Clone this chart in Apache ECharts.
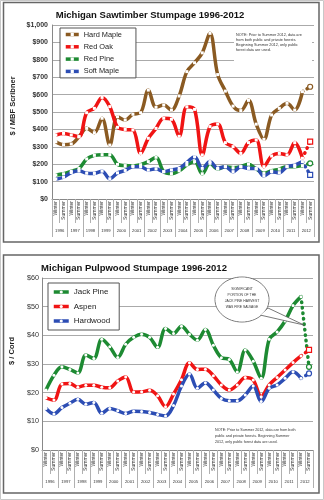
<!DOCTYPE html>
<html><head><meta charset="utf-8">
<script src="https://cdn.jsdelivr.net/npm/echarts@6/dist/echarts.min.js"></script>
<style>html,body{margin:0;padding:0;background:#fff}#c{width:324px;height:500px}</style>
</head><body><div id="c"></div>
<script>
// ---------- data ----------
const years = ['1996','1997','1998','1999','2000','2001','2002','2003','2004','2005','2006','2007','2008','2009','2010','2011','2012'];
const seasonLabels = ['Winter','Summer'];
const yTicks1 = ['$0','$100','$200','$300','$400','$500','$600','$700','$800','$900','$1,000'];
const yTicks2 = ['$0','$10','$20','$30','$40','$50','$60'];

// Sawtimber ($/MBF Scribner), 1996 Winter .. 2012 Winter
const hardMaple = [329,312,316,358,406,381,464,310,473,454,487,496,626,527,540,511,592,732,783,840,952,715,620,534,508,567,430,343,483,521,550,511,617];
const redOak    = [368,377,368,358,496,521,584,531,412,400,397,262,349,406,464,458,360,530,515,253,416,431,324,301,262,324,339,186,247,262,253,324,234];
const redPine   = [138,145,160,175,230,251,255,255,199,192,190,197,215,240,157,146,162,195,215,145,205,172,186,180,186,200,172,148,162,172,186,186,192];
const softMaple = [114,125,152,162,148,147,160,116,150,164,186,186,166,174,157,167,176,210,243,176,215,176,186,157,186,176,176,132,157,151,186,195,215];
// Summer 2012 (public forests only)
const sawSummer2012 = {hardMaple:645, redOak:330, redPine:205, softMaple:139};

// Pulpwood ($/cord), 1996 Winter .. 2012 Winter
const jackPine = [20.9,26.1,29.0,28.1,26.9,33.1,31.9,38.6,36.0,32.3,36.9,39.3,40.4,39.3,35.8,42.4,40.6,43.2,40.4,38.3,42.0,36.5,32.2,31.6,27.2,34.9,31.0,25.0,38.6,41.2,45.0,50.4,53.5];
const aspen    = [18.2,17.4,23.0,23.2,21.9,22.6,22.6,21.9,21.7,24.1,25.5,20.2,20.3,20.8,18.9,15.1,19.5,24.5,30.4,28.1,28.2,25.9,22.7,20.9,22.7,25.3,24.4,18.6,22.7,25.3,27.9,30.5,32.8];
const hardwood = [14.5,12.6,14.8,16.3,17.7,16.0,16.6,12.8,14.5,13.7,12.7,13.5,13.4,13.1,12.4,11.9,15.5,22.3,26.5,21.5,23.5,20.9,18.0,17.2,17.2,19.2,22.3,16.9,21.5,22.7,25.0,27.3,25.0];
const pulpSummer2012 = {jackPine:29.0, aspen:34.9, hardwood:26.7};

// ---------- build ----------
const cats = years.flatMap(y => seasonLabels.map(s => y + ' ' + s));
const FONT = '"Liberation Sans", Arial, sans-serif';
const C = {brown:'#8a5a22', red:'#f01414', green:'#1d8a32', blue:'#2c4db4'};

function mainSeries(name, data, color, xi, yi, sym){
  return {name, type:'line', data, xAxisIndex:xi, yAxisIndex:yi, smooth:0.35,
    symbol:sym, symbolSize:3, showSymbol:true,
    itemStyle:{color:'#fff', borderWidth:0},
    lineStyle:{color, width:3.5}, emphasis:{disabled:true}};
}
function tailSeries(name, last, summer, color, xi, yi, endSym){
  const d = cats.map(() => null);
  d[32] = {value:last, symbol:'none'};
  d[33] = {value:summer, symbol:endSym, symbolSize:5,
           itemStyle:{color:'#fff', borderColor:color, borderWidth:1.2}};
  return {name, type:'line', data:d, xAxisIndex:xi, yAxisIndex:yi, connectNulls:false,
    showSymbol:true, symbol:'none',
    lineStyle:{color, width:3.5, type:[0.5,5], cap:'round'}, emphasis:{disabled:true}};
}
function seasonAxis(gi){
  return {gridIndex:gi, type:'category', data:cats, boundaryGap:true,
    axisLine:{lineStyle:{color:'#888', width:1}},
    axisTick:{show:true, interval:0, length:24, lineStyle:{color:'#b0b0b0'}},
    axisLabel:{interval:0, rotate:90, fontSize:5, margin:2, color:'#333', fontFamily:FONT,
      formatter:(v, i) => seasonLabels[i % 2]}};
}
function yearAxis(gi){
  return {gridIndex:gi, type:'category', data:years, position:'bottom', offset:24, boundaryGap:true,
    axisLine:{show:false},
    axisTick:{show:true, interval:0, length:14, lineStyle:{color:'#b0b0b0'}},
    axisLabel:{interval:0, fontSize:4.2, margin:6, color:'#333', fontFamily:FONT}};
}
function legend(names, left, top, fs, lh, gap, pad, iw){
  return {data:names, orient:'vertical', left, top, padding:pad, itemGap:gap,
    itemWidth:iw, itemHeight:4, backgroundColor:'#fff', borderColor:'#555', borderWidth:1,
    selectedMode:false,
    lineStyle:{width:3.5},
    textStyle:{fontSize:fs, lineHeight:lh, color:'#222', fontFamily:FONT}};
}

const option = {
  animation:false,
  backgroundColor:'#fff',
  grid:[
    {left:52, top:25, width:262, height:174},
    {left:42, top:278, width:271, height:172}
  ],
  xAxis:[seasonAxis(0), yearAxis(0), seasonAxis(1), yearAxis(1)],
  yAxis:[
    {gridIndex:0, type:'value', min:0, max:1000, interval:100,
     axisLine:{show:true, lineStyle:{color:'#888'}}, axisTick:{show:false},
     splitLine:{lineStyle:{color:'#aaa'}},
     axisLabel:{fontSize:7, fontWeight:'bold', color:'#333', margin:4, fontFamily:FONT,
       formatter:v => yTicks1[Math.round(v/100)]}},
    {gridIndex:1, type:'value', min:0, max:60, interval:10,
     axisLine:{show:true, lineStyle:{color:'#888'}}, axisTick:{show:false},
     splitLine:{lineStyle:{color:'#aaa'}},
     axisLabel:{fontSize:7.2, color:'#333', margin:3, fontFamily:FONT,
       formatter:v => yTicks2[Math.round(v/10)]}}
  ],
  legend:[
    legend(['Hard Maple','Red Oak','Red Pine','Soft Maple'], 60, 28, 7.4, 9, 3.3, [2,14,2,4], 13),
    legend(['Jack Pine','Aspen','Hardwood'], 48, 283, 8, 10, 4.5, [4,9,4,4], 15)
  ],
  series:[
    mainSeries('Hard Maple', hardMaple, C.brown, 0, 0, 'rect'),
    mainSeries('Red Oak', redOak, C.red, 0, 0, 'rect'),
    mainSeries('Red Pine', redPine, C.green, 0, 0, 'rect'),
    mainSeries('Soft Maple', softMaple, C.blue, 0, 0, 'rect'),
    tailSeries('Hard Maple S12', hardMaple[32], sawSummer2012.hardMaple, C.brown, 0, 0, 'circle'),
    tailSeries('Red Oak S12', redOak[32], sawSummer2012.redOak, C.red, 0, 0, 'rect'),
    tailSeries('Red Pine S12', redPine[32], sawSummer2012.redPine, C.green, 0, 0, 'circle'),
    tailSeries('Soft Maple S12', softMaple[32], sawSummer2012.softMaple, C.blue, 0, 0, 'rect'),
    mainSeries('Jack Pine', jackPine, C.green, 2, 1, 'circle'),
    mainSeries('Aspen', aspen, C.red, 2, 1, 'circle'),
    mainSeries('Hardwood', hardwood, C.blue, 2, 1, 'circle'),
    tailSeries('Jack Pine S12', jackPine[32], pulpSummer2012.jackPine, C.green, 2, 1, 'circle'),
    tailSeries('Aspen S12', aspen[32], pulpSummer2012.aspen, C.red, 2, 1, 'rect'),
    tailSeries('Hardwood S12', hardwood[32], pulpSummer2012.hardwood, C.blue, 2, 1, 'circle')
  ],
  graphic:[
    {type:'rect', z:-1, shape:{x:0.5, y:0.5, width:323, height:499}, style:{fill:'none', stroke:'#c8c8c8', lineWidth:1}},
    {type:'rect', z:-1, shape:{x:3.5, y:2.5, width:315.5, height:239.5}, style:{fill:'none', stroke:'#666', lineWidth:1.5}},
    {type:'rect', z:-1, shape:{x:3.5, y:255, width:315.5, height:238}, style:{fill:'none', stroke:'#666', lineWidth:1.5}},
    {type:'text', z:50, style:{text:'Michigan Sawtimber Stumpage 1996-2012', x:150, y:15, align:'center', verticalAlign:'middle', font:'bold 9.5px ' + FONT, fill:'#111'}},
    {type:'text', z:50, style:{text:'Michigan Pulpwood Stumpage 1996-2012', x:134, y:268, align:'center', verticalAlign:'middle', font:'bold 9.5px ' + FONT, fill:'#111'}},
    {type:'text', z:50, rotation:Math.PI/2, x:13, y:106, style:{text:'$ / MBF Scribner', x:0, y:0, align:'center', verticalAlign:'middle', font:'bold 7.5px ' + FONT, fill:'#222'}},
    {type:'text', z:50, rotation:Math.PI/2, x:12, y:351, style:{text:'$ / Cord', x:0, y:0, align:'center', verticalAlign:'middle', font:'bold 7.5px ' + FONT, fill:'#222'}},
    {type:'rect', z:40, shape:{x:234, y:27, width:78, height:35}, style:{fill:'#fff'}},
    {type:'text', z:50, style:{text:'NOTE: Prior to Summer 2012, data are\nfrom both public and private forests.\nBeginning Summer 2012, only public\nforest data are used.', x:236, y:32, lineHeight:5, font:'3.8px ' + FONT, fill:'#333'}},
    {type:'text', z:50, style:{text:'NOTE: Prior to Summer 2012, data are from both\npublic and private forests. Beginning Summer\n2012, only public forest data are used.', x:215, y:427, lineHeight:5.8, font:'3.7px ' + FONT, fill:'#333'}},
    {type:'ellipse', z:45, shape:{cx:242, cy:299.5, rx:27, ry:22.5}, style:{fill:'#fff', stroke:'#555', lineWidth:0.8}},
    {type:'polygon', z:46, shape:{points:[[260,315],[268,308],[304,325]]}, style:{fill:'#fff', stroke:'#555', lineWidth:0.8}},
    {type:'ellipse', z:47, shape:{cx:242, cy:299.5, rx:26.3, ry:21.8}, style:{fill:'#fff'}},
    {type:'text', z:50, style:{text:'SIGNIFICANT\nPORTION OF THE\nJACK PINE HARVEST\nWAS FIRE SALVAGE', x:242, y:298, align:'center', verticalAlign:'middle', lineHeight:5.8, font:'3.4px ' + FONT, fill:'#333'}}
  ]
};
const chart = echarts.init(document.getElementById('c'), null, {renderer:'canvas'});
chart.setOption(option);
</script></body></html>
